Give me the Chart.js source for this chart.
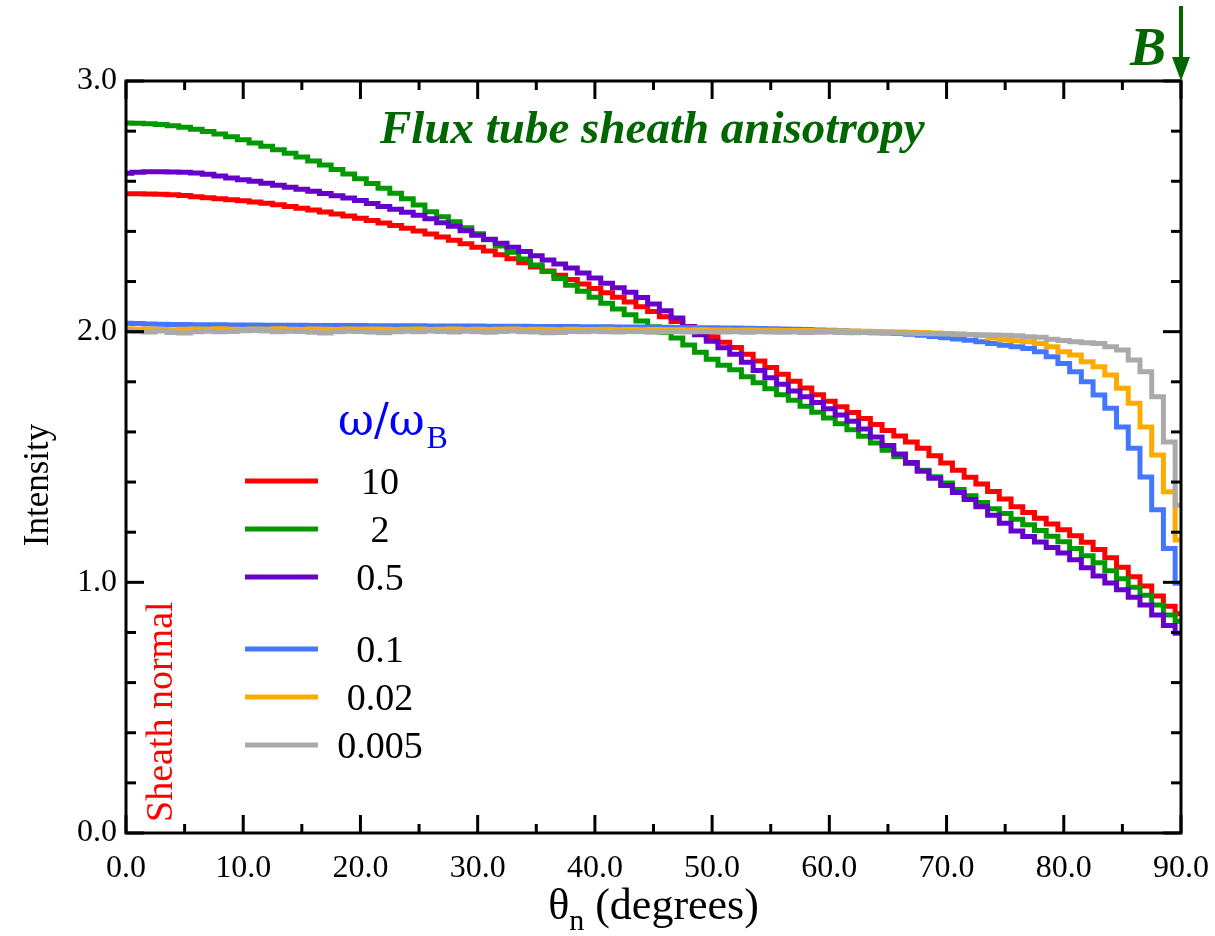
<!DOCTYPE html>
<html>
<head>
<meta charset="utf-8">
<title>Flux tube sheath anisotropy</title>
<script src="https://cdn.jsdelivr.net/npm/chart.js@4.4.0/dist/chart.umd.min.js"></script>
<style>
  body { margin: 0; background: #fff; }
</style>
</head>
<body>
<canvas id="myChart" width="1215" height="936"></canvas>
<script>
// angle from the sheath normal, one bin per degree
const angles = Array.from({ length: 91 }, (_, i) => i);

const freqLabels = ['10', '2', '0.5', '0.1', '0.02', '0.005'];
const lineColors = ['#ff0000', '#009900', '#6600cc', '#4477ff', '#ffaa00', '#aaaaaa'];

const I10 = [
  2.550, 2.550, 2.549, 2.548, 2.546, 2.543, 2.538, 2.534, 2.530, 2.526,
  2.522, 2.517, 2.512, 2.506, 2.499, 2.492, 2.485, 2.477, 2.469, 2.461,
  2.452, 2.443, 2.434, 2.424, 2.413, 2.402, 2.390, 2.378, 2.365, 2.351,
  2.337, 2.322, 2.307, 2.291, 2.275, 2.258, 2.242, 2.225, 2.208, 2.190,
  2.172, 2.155, 2.137, 2.118, 2.099, 2.080, 2.060, 2.041, 2.021, 2.000,
  1.980, 1.958, 1.937, 1.910, 1.883, 1.857, 1.830, 1.802, 1.775, 1.748,
  1.722, 1.700, 1.678, 1.654, 1.630, 1.606, 1.584, 1.560, 1.535, 1.505,
  1.476, 1.447, 1.419, 1.392, 1.362, 1.332, 1.302, 1.279, 1.256, 1.233,
  1.210, 1.186, 1.160, 1.131, 1.098, 1.060, 1.022, 0.985, 0.945, 0.905,
  0.875
];
const I2 = [
  2.832, 2.831, 2.829, 2.826, 2.821, 2.815, 2.808, 2.799, 2.789, 2.778,
  2.766, 2.753, 2.740, 2.726, 2.712, 2.697, 2.681, 2.665, 2.647, 2.629,
  2.610, 2.591, 2.572, 2.552, 2.530, 2.505, 2.478, 2.458, 2.438, 2.415,
  2.391, 2.367, 2.342, 2.317, 2.290, 2.266, 2.240, 2.212, 2.185, 2.161,
  2.137, 2.113, 2.090, 2.067, 2.043, 2.020, 1.998, 1.975, 1.947, 1.918,
  1.890, 1.866, 1.848, 1.820, 1.796, 1.772, 1.748, 1.726, 1.702, 1.679,
  1.656, 1.633, 1.609, 1.583, 1.556, 1.527, 1.501, 1.474, 1.447, 1.421,
  1.396, 1.370, 1.345, 1.318, 1.294, 1.275, 1.252, 1.230, 1.207, 1.184,
  1.162, 1.135, 1.106, 1.078, 1.046, 1.014, 0.980, 0.948, 0.910, 0.870,
  0.845
];
const I05 = [
  2.632, 2.636, 2.638, 2.638, 2.637, 2.636, 2.633, 2.628, 2.621, 2.613,
  2.606, 2.600, 2.592, 2.584, 2.576, 2.568, 2.560, 2.551, 2.542, 2.533,
  2.523, 2.511, 2.499, 2.488, 2.476, 2.464, 2.450, 2.435, 2.421, 2.403,
  2.385, 2.369, 2.353, 2.337, 2.320, 2.303, 2.286, 2.270, 2.254, 2.234,
  2.214, 2.193, 2.175, 2.157, 2.136, 2.110, 2.083, 2.055, 2.020, 1.988,
  1.962, 1.936, 1.910, 1.878, 1.845, 1.816, 1.790, 1.763, 1.740, 1.717,
  1.692, 1.668, 1.643, 1.612, 1.580, 1.546, 1.512, 1.478, 1.443, 1.415,
  1.386, 1.358, 1.330, 1.302, 1.268, 1.236, 1.205, 1.183, 1.161, 1.139,
  1.117, 1.090, 1.058, 1.025, 0.997, 0.970, 0.940, 0.910, 0.870, 0.828,
  0.797
];
const I01 = [
  2.034, 2.033, 2.031, 2.030, 2.029, 2.029, 2.028, 2.028, 2.028, 2.027,
  2.027, 2.027, 2.026, 2.026, 2.026, 2.026, 2.025, 2.025, 2.025, 2.025,
  2.025, 2.024, 2.024, 2.024, 2.024, 2.024, 2.023, 2.023, 2.023, 2.023,
  2.023, 2.022, 2.022, 2.022, 2.022, 2.021, 2.021, 2.021, 2.021, 2.020,
  2.020, 2.020, 2.019, 2.019, 2.019, 2.018, 2.018, 2.017, 2.017, 2.016,
  2.016, 2.015, 2.015, 2.014, 2.013, 2.012, 2.011, 2.010, 2.009, 2.007,
  2.006, 2.004, 2.002, 2.000, 1.998, 1.995, 1.993, 1.990, 1.986, 1.981,
  1.976, 1.971, 1.966, 1.960, 1.953, 1.946, 1.940, 1.933, 1.920, 1.900,
  1.873, 1.840, 1.800, 1.747, 1.694, 1.620, 1.535, 1.420, 1.290, 1.135,
  0.996
];
const I002 = [
  2.012, 2.010, 2.011, 2.009, 2.008, 2.010, 2.011, 2.010, 2.012, 2.010,
  2.009, 2.011, 2.010, 2.012, 2.010, 2.009, 2.011, 2.010, 2.009, 2.011,
  2.010, 2.011, 2.010, 2.009, 2.010, 2.011, 2.009, 2.010, 2.011, 2.009,
  2.010, 2.009, 2.010, 2.011, 2.009, 2.010, 2.009, 2.008, 2.010, 2.009,
  2.009, 2.010, 2.008, 2.009, 2.008, 2.009, 2.008, 2.008, 2.007, 2.008,
  2.007, 2.007, 2.006, 2.007, 2.006, 2.006, 2.005, 2.005, 2.005, 2.004,
  2.004, 2.003, 2.003, 2.002, 2.001, 2.000, 1.999, 1.998, 1.997, 1.995,
  1.993, 1.991, 1.989, 1.985, 1.975, 1.968, 1.964, 1.960, 1.953, 1.940,
  1.920, 1.907, 1.880, 1.860, 1.827, 1.774, 1.714, 1.620, 1.508, 1.361,
  1.169
];
const I0005 = [
  2.004, 2.001, 1.999, 2.003, 1.997, 1.995, 2.000, 2.002, 2.000, 2.001,
  2.004, 2.005, 2.003, 2.000, 2.002, 2.001, 1.998, 1.995, 2.000, 2.002,
  2.001, 1.999, 1.996, 2.000, 2.002, 2.000, 2.003, 2.001, 1.999, 2.002,
  2.000, 1.998, 2.001, 2.003, 2.000, 1.999, 1.996, 1.997, 2.001, 2.000,
  2.002, 2.000, 1.999, 2.001, 2.000, 1.998, 2.001, 2.000, 1.999, 2.000,
  2.001, 1.999, 2.000, 1.998, 2.000, 1.999, 1.998, 1.999, 1.997, 1.998,
  1.999, 1.997, 1.996, 1.997, 1.995, 1.996, 1.995, 1.994, 1.993, 1.992,
  1.991, 1.990, 1.989, 1.988, 1.987, 1.986, 1.984, 1.980, 1.978, 1.970,
  1.965, 1.960, 1.956, 1.953, 1.940, 1.927, 1.887, 1.840, 1.740, 1.560,
  1.308
];

const series = [I10, I2, I05, I01, I002, I0005];

const xTickLabels = ['0.0', '10.0', '20.0', '30.0', '40.0', '50.0', '60.0', '70.0', '80.0', '90.0'];
const yTickLabels = ['0.0', '1.0', '2.0', '3.0'];

const SERIF = '"Liberation Serif", "Times New Roman", serif';
const GREEK = '"DejaVu Serif", serif';
const DARK_GREEN = '#006600';

// frame, inward ticks, labels and legend
const decor = {
  id: 'decor',
  afterDraw(chart) {
    const { ctx, chartArea: a, scales: { x, y } } = chart;
    ctx.save();

    ctx.strokeStyle = '#000';
    ctx.lineWidth = 3;
    ctx.lineCap = 'butt';
    const seg = (x1, y1, x2, y2) => {
      ctx.beginPath(); ctx.moveTo(x1, y1); ctx.lineTo(x2, y2); ctx.stroke();
    };
    for (let v = 0; v <= 90; v += 5) {
      const px = x.getPixelForValue(v);
      const len = v % 10 === 0 ? 18 : 9;
      seg(px, a.bottom, px, a.bottom - len);
      seg(px, a.top, px, a.top + len);
    }
    for (let k = 0; k <= 15; k++) {
      const py = y.getPixelForValue(k * 0.2);
      const len = k % 5 === 0 ? 18 : 10;
      seg(a.left, py, a.left + len, py);
      seg(a.right, py, a.right - len, py);
    }
    ctx.strokeRect(a.left, a.top, a.right - a.left, a.bottom - a.top);

    // title
    ctx.fillStyle = DARK_GREEN;
    ctx.font = 'bold italic 47px ' + SERIF;
    ctx.textAlign = 'left';
    ctx.textBaseline = 'alphabetic';
    ctx.fillText('Flux tube sheath anisotropy', 380, 143);

    // field direction marker
    ctx.font = 'bold italic 54px ' + SERIF;
    ctx.fillText('B', 1130, 65);
    ctx.strokeStyle = DARK_GREEN;
    ctx.lineWidth = 4;
    seg(a.right, 6, a.right, 62);
    ctx.beginPath();
    ctx.moveTo(a.right - 9, 57);
    ctx.lineTo(a.right + 9, 57);
    ctx.lineTo(a.right, a.top);
    ctx.closePath();
    ctx.fill();

    // axis titles
    ctx.fillStyle = '#000';
    const cx = (a.left + a.right) / 2;
    const big = 44, sub = 30;
    ctx.font = big + 'px ' + SERIF;
    const wTheta = ctx.measureText('\u03b8').width;
    const wRest = ctx.measureText(' (degrees)').width;
    ctx.font = sub + 'px ' + SERIF;
    const wN = ctx.measureText('n').width;
    const tx = cx - (wTheta + wN + wRest) / 2;
    ctx.font = big + 'px ' + SERIF;
    ctx.fillText('\u03b8', tx, 919);
    ctx.font = sub + 'px ' + SERIF;
    ctx.fillText('n', tx + wTheta, 930);
    ctx.font = big + 'px ' + SERIF;
    ctx.fillText(' (degrees)', tx + wTheta + wN, 919);

    ctx.save();
    ctx.translate(48, 485);
    ctx.rotate(-Math.PI / 2);
    ctx.textAlign = 'center';
    ctx.font = '35px ' + SERIF;
    ctx.fillText('Intensity', 0, 0);
    ctx.restore();

    // sheath normal marker along the left edge
    ctx.save();
    ctx.translate(172, 822);
    ctx.rotate(-Math.PI / 2);
    ctx.fillStyle = '#ff0000';
    ctx.font = '38px ' + SERIF;
    ctx.textAlign = 'left';
    ctx.fillText('Sheath normal', 0, 0);
    ctx.restore();

    // legend
    ctx.fillStyle = '#0000ff';
    ctx.font = '44px ' + GREEK;
    ctx.textAlign = 'left';
    const wOm = ctx.measureText('\u03c9/\u03c9').width;
    ctx.fillText('\u03c9/\u03c9', 338, 435);
    ctx.font = '32px ' + SERIF;
    ctx.fillText('B', 340 + wOm, 448);

    ctx.lineWidth = 5;
    ctx.font = '38px ' + SERIF;
    ctx.textAlign = 'center';
    let rowY = 481;
    chart.data.datasets.forEach((ds, i) => {
      if (i === 3) rowY += 24;
      ctx.strokeStyle = ds.borderColor;
      seg(245, rowY, 318, rowY);
      ctx.fillStyle = '#000';
      ctx.fillText(ds.label, 380, rowY + 13);
      rowY += 48;
    });

    ctx.restore();
  }
};

const ctx = document.getElementById('myChart').getContext('2d');
const myChart = new Chart(ctx, {
  type: 'line',
  data: {
    datasets: series.map((s, i) => ({
      label: freqLabels[i],
      data: angles.map((ang, j) => ({ x: ang, y: s[j] })),
      borderColor: lineColors[i],
      borderWidth: 5,
      stepped: 'middle',
      pointRadius: 0,
      fill: false,
      order: series.length - i
    }))
  },
  options: {
    responsive: false,
    devicePixelRatio: 1,
    animation: false,
    layout: { padding: { top: 81, right: 34, left: 0, bottom: 0 } },
    plugins: {
      legend: { display: false },
      tooltip: { enabled: false }
    },
    scales: {
      x: {
        type: 'linear',
        min: 0,
        max: 90,
        grid: { display: false, drawTicks: false },
        border: { display: false },
        ticks: {
          stepSize: 10,
          autoSkip: false,
          maxRotation: 0,
          padding: 16,
          color: '#000',
          font: { family: SERIF, size: 32 },
          callback: v => xTickLabels[v / 10]
        },
        afterFit: s => { s.height = 103; s.paddingLeft = 0; s.paddingRight = 0; }
      },
      y: {
        type: 'linear',
        min: 0,
        max: 3,
        grid: { display: false, drawTicks: false },
        border: { display: false },
        ticks: {
          stepSize: 1,
          padding: 9,
          color: '#000',
          font: { family: SERIF, size: 32 },
          callback: v => yTickLabels[v]
        },
        afterFit: s => { s.width = 126; s.paddingTop = 0; s.paddingBottom = 0; }
      }
    }
  },
  plugins: [decor]
});
</script>
</body>
</html>
